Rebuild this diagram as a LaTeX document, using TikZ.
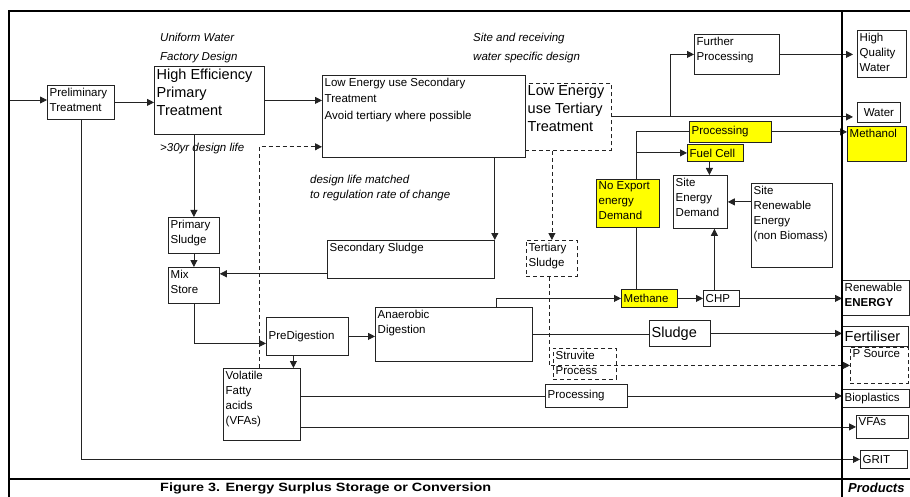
\documentclass[tikz,border=0pt]{standalone}
\usepackage{fontspec}
\setmainfont{Liberation Sans}
\newfontfamily\capfont[FakeStretch=1.2]{Liberation Sans}
\usetikzlibrary{arrows.meta, calc, positioning}
\definecolor{boxyellow}{RGB}{255,255,0}
\definecolor{edgegray}{RGB}{35,35,35}
\newcommand{\smtxt}{\fontsize{11.5}{15}\selectfont}
\newcommand{\bigtxt}{\fontsize{14.5}{18}\selectfont}

\begin{document}
\begin{tikzpicture}[
    x=1pt, y=-1pt,
    box/.style={draw=edgegray, line width=0.8pt, inner sep=0pt, anchor=north west},
    hot/.style={box, fill=boxyellow},
    dbox/.style={box, dash pattern=on 4pt off 3pt},
    sz/.style n args={2}{minimum width=#1pt, minimum height=#2pt},
    intext/.style={anchor=north west, align=left, inner sep=2.5pt, font=\smtxt},
    bigtext/.style={intext, font=\bigtxt},
    sidetext/.style={anchor=west, inner sep=2.5pt, font=\smtxt},
    note/.style={anchor=north west, align=left, inner sep=0pt, font=\fontsize{11.5}{19}\selectfont\itshape},
    arrow/.style={-{Triangle[length=7pt, width=7pt]}, line width=0.8pt, draw=edgegray},
    darrow/.style={arrow, dash pattern=on 4pt off 3pt},
    link/.style={line width=0.8pt, draw=edgegray},
    frame/.style={line width=2.6pt, black}
]
    \useasboundingbox (0,0) rectangle (910,497);

    % notes
    \node[note] (uniform) at (160,33) {Uniform Water\\Factory Design};
    \node[note] (sitenote) at (473,33) {Site and receiving\\water specific design};
    \node[note] (lifenote) at (160,143) {>30yr design life};
    \node[note, font=\fontsize{11.5}{15}\selectfont\itshape] (regnote) at (310,175) {design life matched\\to regulation rate of change};

    % water line
    \node[box, sz={67}{34}, label={[intext]north west:{Preliminary\\Treatment}}] (prelim) at (47,85) {};
    \node[box, sz={110}{68}, label={[bigtext]north west:{High Efficiency\\Primary\\Treatment}}] (hept) at (154,66) {};
    \node[box, sz={203}{82}, label={[intext, font=\fontsize{11.5}{16.5}\selectfont]north west:{Low Energy use Secondary\\Treatment\\Avoid tertiary where possible}}] (lesec) at (322,75) {};
    \node[dbox, sz={86}{67}, label={[bigtext]north west:{Low Energy\\use Tertiary\\Treatment}}] (tert) at (525,83) {};
    \node[box, sz={85}{40}, label={[intext]north west:{Further\\Processing}}] (further) at (694,34) {};

    % sludge line
    \node[box, sz={51}{36}, label={[intext]north west:{Primary\\Sludge}}] (psl) at (168,217) {};
    \node[box, sz={51}{36}, label={[intext]north west:{Mix\\Store}}] (mix) at (168,267) {};
    \node[box, sz={167}{38}, label={[intext]north west:{Secondary Sludge}}] (ssl) at (327,240) {};
    \node[dbox, sz={51}{36}, label={[intext]north west:{Tertiary\\Sludge}}] (tsl) at (526,240) {};
    \node[box, sz={82}{38}, label={[sidetext]west:PreDigestion}] (predig) at (266,317) {};
    \node[box, sz={157}{54}, label={[intext]north west:{Anaerobic\\Digestion}}] (ad) at (375,307) {};
    \node[box, sz={77}{72}, label={[intext]north west:{Volatile\\Fatty\\acids\\(VFAs)}}] (vfa) at (223,368) {};
    \node[box, sz={61}{26}, label={[sidetext, font=\bigtxt]west:Sludge}] (sludge) at (649,320) {};
    \node[dbox, sz={63}{31}, label={[intext]north west:{Struvite\\Process}}] (struv) at (553,348) {};
    \node[box, sz={82}{23}, label={[sidetext]west:Processing}] (proc) at (545,384) {};

    % energy
    \node[hot, sz={82}{21}, label={[sidetext]west:Processing}] (procy) at (689,121) {};
    \node[hot, sz={56}{17}, label={[sidetext]west:Fuel Cell}] (fuel) at (687,144) {};
    \node[hot, sz={63}{48}, label={[intext]north west:{No Export\\energy\\Demand}}] (noexp) at (596,179) {};
    \node[box, sz={54}{53}, label={[intext]north west:{Site\\Energy\\Demand}}] (sed) at (673,175) {};
    \node[box, sz={81}{84}, label={[intext]north west:{Site\\Renewable\\Energy\\(non Biomass)}}] (sre) at (751,183) {};
    \node[hot, sz={56}{18}, label={[sidetext]west:Methane}] (methane) at (621,289) {};
    \node[box, sz={36}{16}, label={[sidetext]west:CHP}] (chp) at (703,290) {};

    % products
    \node[box, sz={49}{47}, label={[intext]north west:{High\\Quality\\Water}}] (hqw) at (857,30) {};
    \node[box, sz={43}{20}, font=\smtxt] (water) at (857,102) {Water};
    \node[hot, sz={59}{35}, label={[intext]north west:{Methanol}}] (methanol) at (847,126) {};
    \node[box, sz={67}{35}, label={[intext]north west:{Renewable\\\textbf{ENERGY}}}] (renew) at (842,280) {};
    \node[box, sz={66}{20}, label={[sidetext, font=\bigtxt]west:Fertiliser}] (fert) at (842,326) {};
    \node[dbox, sz={58}{36}, label={[intext]north west:{P Source}}] (psrc) at (850,347) {};
    \node[box, sz={67}{18}, label={[sidetext]west:Bioplastics}] (bio) at (842,389) {};
    \node[box, sz={52}{23}, label={[intext]north west:{VFAs}}] (vfas) at (856,415) {};
    \node[box, sz={47}{18}, label={[sidetext]west:GRIT}] (grit) at (860,450) {};

    % connectors
    \coordinate (inlet) at (9,100);
    \draw[arrow] (inlet) -- (inlet -| prelim.west);
    \draw[arrow] (prelim.east) -- (prelim.east -| hept.west);
    \draw[arrow] (hept.east) -- (hept.east -| lesec.west);
    \draw[arrow] (hept.south -| psl.north) -- (psl.north);
    \draw[arrow] (psl) -- (mix);
    \draw[arrow] (mix.south) |- ([yshift=-7pt]predig.west);
    \draw[arrow] (predig.east) -- (predig.east -| ad.west);
    \draw[arrow] ([xshift=-14pt]predig.south) -- ([xshift=-14pt]predig.south |- vfa.north);
    \draw[darrow] ([xshift=-3pt]vfa.north) |- ([yshift=11pt]lesec.south west);
    \draw[arrow] (lesec.south -| ssl.north east) -- (ssl.north east);
    \draw[arrow] ([yshift=5pt]ssl.south west) -- ([yshift=5pt]ssl.south west -| mix.east);
    \draw[darrow] (tsl.north |- tert.south) -- (tsl.north);
    \draw[darrow] ([xshift=-3pt]tsl.south) |- (psrc.west);
    \draw[arrow, shorten >=4pt] (tert.east) -- (tert.east -| water.west);
    \coordinate (split) at ($(tert.east)+(59,0)$);
    \draw[arrow] (split) |- (further.west);
    \draw[arrow, shorten >=4pt] (further.east) -- (further.east -| hqw.west);
    \coordinate (tap) at ($(noexp.north)+(8.5,0)$);
    \draw[link] (tap) |- (procy.west);
    \draw[arrow] (tap |- fuel.west) -- (fuel.west);
    \draw[arrow] (procy.east) -- (procy.east -| methanol.west);
    \draw[arrow] ([xshift=-6pt]fuel.south) -- ([xshift=-6pt]fuel.south |- sed.north);
    \draw[arrow] (sed.east -| sre.west) -- (sed.east);
    \draw[link] (tap |- noexp.south) -- (tap |- methane.north);
    \draw[arrow] ($(ad.north east)+(-36,0)$) |- (methane.west);
    \draw[arrow] (methane) -- (chp);
    \draw[arrow] ([xshift=-7pt]chp.north) -- ([xshift=-7pt]chp.north |- sed.south);
    \draw[arrow] (chp.east) -- (chp.east -| renew.west);
    \draw[link] (ad.east) -- (ad.east -| sludge.west);
    \draw[arrow] (sludge.east) -- (sludge.east -| fert.west);
    \draw[link] (proc.west -| vfa.east) -- (proc.west);
    \draw[arrow] (proc.east) -- (proc.east -| bio.west);
    \draw[arrow] (vfas.west -| vfa.east) -- (vfas.west);
    \draw[arrow] (prelim.south) |- (grit.west);

    % frame
    \draw[frame] (9,497) -- (9,11) -- (910,11);
    \draw[frame] (842,11) -- (842,497);
    \draw[frame] (9,479) -- (910,479);
    \node[anchor=west, inner sep=0pt, font=\capfont\bfseries\fontsize{12}{14}\selectfont] (figcap) at (160,488) {Figure 3. Energy Surplus Storage or Conversion};
    \node[anchor=west, inner sep=0pt, font=\bfseries\itshape\fontsize{13}{15}\selectfont] (prodcap) at (848,488) {Products};
\end{tikzpicture}
\end{document}
